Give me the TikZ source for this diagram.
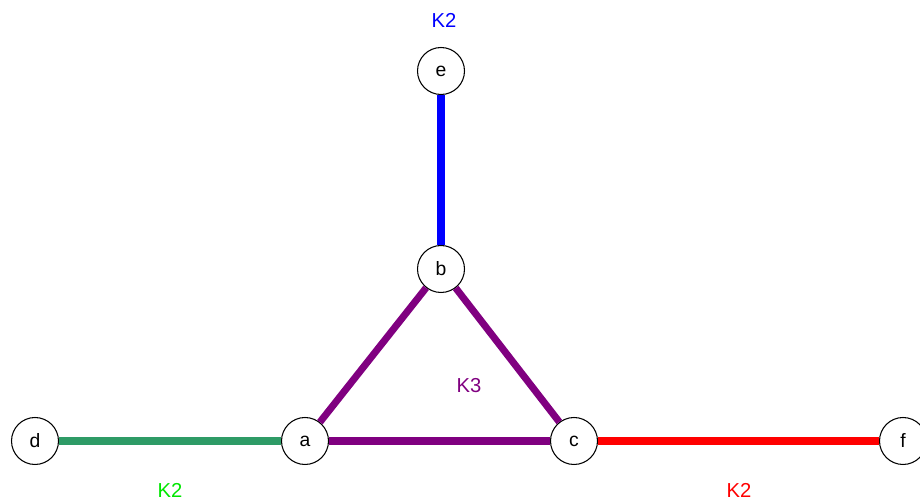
\documentclass[tikz,border=0pt]{standalone}
\usepackage{fontspec}
\setmainfont{Liberation Sans}
\usetikzlibrary{positioning}
\definecolor{kgreen}{RGB}{46,155,102}
\definecolor{kpurple}{RGB}{128,0,128}
\definecolor{klime}{RGB}{0,230,0}

\begin{document}
\begin{tikzpicture}[x=0.02cm, y=-0.02cm,
    vert/.style={draw, circle, line width=0.6pt, fill=white, minimum size=0.94cm, inner sep=0pt, font=\fontsize{11}{13}\selectfont},
    edge/.style={line width=4pt},
    clq/.style={font=\fontsize{11.5}{13}\selectfont, inner sep=0pt}
]
\useasboundingbox (0,0) rectangle (920,499);
\node[vert] (a) at (305,441) {a};
\node[vert] (b) at (441,269) {b};
\node[vert] (c) at (574,441) {c};
\node[vert] (d) at (35,441) {d};
\node[vert] (e) at (441,71) {e};
\node[vert] (f) at (903,441) {f};

\draw[edge, kpurple] (a) -- (b);
\draw[edge, kpurple] (b) -- (c);
\draw[edge, kpurple] (a) -- (c);
\draw[edge, blue] (b) -- (e);
\draw[edge, kgreen] (d) -- (a);
\draw[edge, red] (c) -- (f);

\node[clq, text=blue] (Le) at (444,20) {K2};
\node[clq, text=kpurple] (Labc) at (469,386) {K3};
\node[clq, text=klime] (Lda) at (170,490) {K2};
\node[clq, text=red] (Lcf) at (739,490) {K2};
\end{tikzpicture}
\end{document}
